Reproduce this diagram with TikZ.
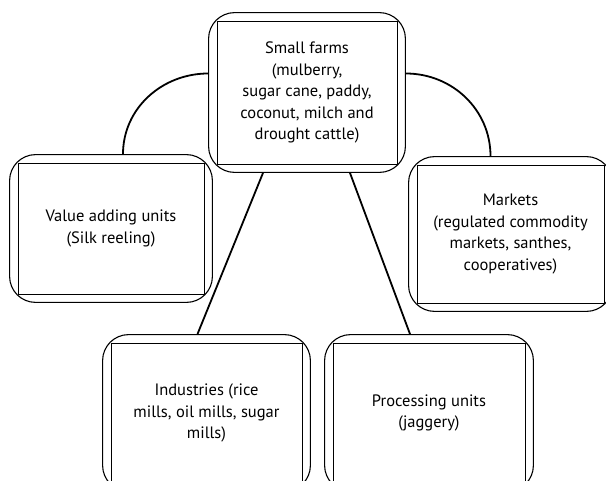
\documentclass[tikz,border=0pt]{standalone}
\usepackage{fontspec}
\setmainfont{PT Sans}
\usetikzlibrary{fit}
\tikzset{
  cell/.style={draw, line width=0.8pt, align=center, inner sep=0pt, font=\fontsize{16.5}{21.5}\selectfont},
  shell/.style={draw, line width=1.1pt, rounded corners=26pt, inner sep=8pt},
  link/.style={line width=1.8pt},
}

\begin{document}
\begin{tikzpicture}[x=1pt, y=-1pt]
\useasboundingbox (0,0) rectangle (606,480);
\node[cell, minimum width=180pt, minimum height=143pt] (farms) at (307,92.5) {Small farms\\(mulberry,\\sugar cane, paddy,\\coconut, milch and\\drought cattle)};
\node[cell, minimum width=186pt, minimum height=131pt] (value) at (111,228.5) {Value adding units\\(Silk reeling)};
\node[cell, minimum width=187pt, minimum height=138pt] (markets) at (510.5,234) {Markets\\(regulated commodity\\markets, santhes,\\cooperatives)};
\node[cell, minimum width=191pt, minimum height=140pt] (industries) at (206.5,413) {Industries (rice\\mills, oil mills, sugar\\mills)};
\node[cell, minimum width=192pt, minimum height=140pt] (processing) at (429,413) {Processing units\\(jaggery)};
\node[shell, fit=(farms)] (farmsbox) {};
\node[shell, fit=(value)] (valuebox) {};
\node[shell, fit=(markets)] (marketsbox) {};
\node[shell, fit=(industries)] (industriesbox) {};
\node[shell, fit=(processing)] (processingbox) {};
\draw[link] ([xshift=12pt]valuebox.north) to[out=90, in=180] ([yshift=19pt]farmsbox.west);
\draw[link] ([yshift=19pt]farmsbox.east) to[out=0, in=90] ([xshift=-20pt]marketsbox.north);
\draw[link] ([xshift=-44pt]farmsbox.south) -- ([xshift=-9pt]industriesbox.north);
\draw[link] ([xshift=43pt]farmsbox.south) -- ([xshift=-19pt]processingbox.north);
\end{tikzpicture}
\end{document}
